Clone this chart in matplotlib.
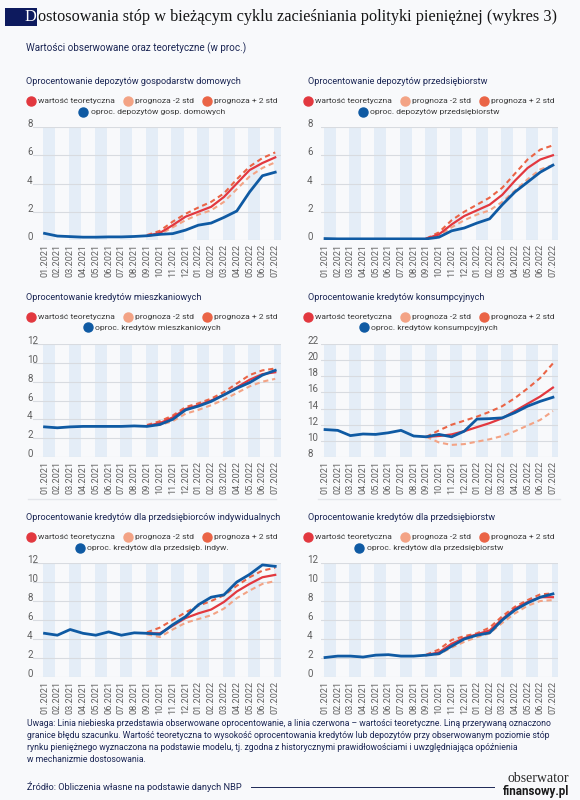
import numpy as np
import matplotlib
matplotlib.use("Agg")
import matplotlib.pyplot as plt
from matplotlib.lines import Line2D
from matplotlib.patches import Rectangle
import matplotlib.transforms as mtransforms

# ---------------- data ----------------
months = ["01.2021", "02.2021", "03.2021", "04.2021", "05.2021", "06.2021",
          "07.2021", "08.2021", "09.2021", "10.2021", "11.2021", "12.2021",
          "01.2022", "02.2022", "03.2022", "04.2022", "05.2022", "06.2022",
          "07.2022"]
forecast_months = months[8:]

legend_labels = ["wartość teoretyczna", "prognoza -2 std", "prognoza + 2 std"]

# 1. household deposits
hh_dep_obs = [0.47, 0.28, 0.24, 0.20, 0.20, 0.22, 0.22, 0.25, 0.30, 0.40,
              0.45, 0.70, 1.05, 1.20, 1.60, 2.05, 3.40, 4.55, 4.80]
hh_dep_theo = [0.30, 0.50, 1.05, 1.65, 2.00, 2.35, 3.05, 4.00, 4.95, 5.45, 5.85]
hh_dep_lo = [0.28, 0.40, 0.90, 1.40, 1.80, 2.10, 2.70, 3.60, 4.50, 5.10, 5.50]
hh_dep_hi = [0.35, 0.65, 1.30, 1.85, 2.30, 2.70, 3.30, 4.30, 5.20, 5.80, 6.20]

# 2. enterprise deposits
ent_dep_obs = [0.10, 0.08, 0.08, 0.08, 0.08, 0.08, 0.08, 0.08, 0.08, 0.20,
               0.65, 0.85, 1.20, 1.50, 2.50, 3.40, 4.10, 4.80, 5.30]
ent_dep_theo = [0.10, 0.40, 1.10, 1.70, 2.10, 2.50, 3.20, 4.20, 5.10, 5.70, 6.00]
ent_dep_lo = [0.10, 0.30, 0.90, 1.40, 1.80, 2.10, 2.70, 3.50, 4.30, 5.00, 5.30]
ent_dep_hi = [0.10, 0.55, 1.40, 2.00, 2.50, 3.00, 3.70, 4.70, 5.70, 6.40, 6.70]

# 3. mortgage loans
mort_obs = [3.20, 3.10, 3.20, 3.25, 3.25, 3.25, 3.25, 3.30, 3.25, 3.45,
            4.00, 5.00, 5.40, 5.90, 6.60, 7.30, 7.90, 8.70, 9.20]
mort_theo = [3.30, 3.60, 4.20, 5.10, 5.50, 6.00, 6.60, 7.40, 8.20, 8.80, 9.00]
mort_lo = [3.30, 3.40, 3.80, 4.60, 5.00, 5.50, 6.10, 6.80, 7.50, 8.00, 8.30]
mort_hi = [3.40, 3.80, 4.40, 5.30, 5.70, 6.20, 6.90, 7.80, 8.70, 9.20, 9.40]

# 4. consumer loans
cons_obs = [11.40, 11.30, 10.65, 10.85, 10.80, 11.00, 11.30, 10.60, 10.50, 10.80,
            10.50, 11.20, 12.70, 12.75, 12.85, 13.50, 14.30, 14.90, 15.40]
cons_theo = [10.50, 10.60, 10.80, 11.20, 11.70, 12.20, 12.80, 13.70, 14.60, 15.50, 16.60]
cons_lo = [10.50, 9.80, 9.50, 9.60, 9.90, 10.20, 10.60, 11.20, 11.90, 12.60, 13.70]
cons_hi = [10.50, 11.30, 12.00, 12.50, 13.00, 13.60, 14.30, 15.30, 16.50, 17.80, 19.60]

# 5. sole proprietors loans
sole_obs = [4.60, 4.40, 5.00, 4.60, 4.40, 4.75, 4.40, 4.65, 4.60, 4.50,
            5.50, 6.35, 7.60, 8.40, 8.65, 10.00, 10.80, 11.80, 11.65]
sole_theo = [4.60, 4.60, 5.40, 6.20, 6.70, 7.10, 7.90, 9.00, 9.80, 10.50, 10.75]
sole_lo = [4.50, 4.20, 5.00, 5.70, 6.10, 6.50, 7.20, 8.30, 9.10, 9.80, 10.10]
sole_hi = [4.70, 5.20, 6.00, 6.80, 7.50, 8.00, 8.60, 9.60, 10.50, 11.20, 11.50]

# 6. enterprise loans
ent_loan_obs = [2.05, 2.20, 2.20, 2.10, 2.30, 2.35, 2.20, 2.20, 2.30, 2.45,
                3.25, 4.00, 4.40, 4.65, 6.00, 7.05, 7.80, 8.40, 8.75]
ent_loan_theo = [2.30, 2.60, 3.50, 4.10, 4.50, 4.90, 6.10, 7.20, 7.90, 8.40, 8.40]
ent_loan_lo = [2.30, 2.40, 3.10, 3.70, 4.20, 4.60, 5.70, 6.70, 7.50, 8.00, 8.10]
ent_loan_hi = [2.35, 2.90, 3.90, 4.30, 4.60, 5.20, 6.40, 7.40, 8.10, 8.70, 8.80]

titles = ["Oprocentowanie depozytów gospodarstw domowych",
          "Oprocentowanie depozytów przedsiębiorstw",
          "Oprocentowanie kredytów mieszkaniowych",
          "Oprocentowanie kredytów konsumpcyjnych",
          "Oprocentowanie kredytów dla przedsiębiorców indywidualnych",
          "Oprocentowanie kredytów dla przedsiębiorstw"]
obs_labels = ["oproc. depozytów gosp. domowych",
              "oproc. depozytów przedsiębiorstw",
              "oproc. kredytów mieszkaniowych",
              "oproc. kredytów konsumpcyjnych",
              "oproc. kredytów dla przedsięb. indyw.",
              "oproc. kredytów dla przedsiębiorstw"]
y_ticks = [[0, 2, 4, 6, 8], [0, 2, 4, 6, 8],
           [0, 2, 4, 6, 8, 10, 12], [8, 10, 12, 14, 16, 18, 20, 22],
           [0, 2, 4, 6, 8, 10, 12], [0, 2, 4, 6, 8, 10, 12]]

series = [(hh_dep_obs, hh_dep_theo, hh_dep_lo, hh_dep_hi),
          (ent_dep_obs, ent_dep_theo, ent_dep_lo, ent_dep_hi),
          (mort_obs, mort_theo, mort_lo, mort_hi),
          (cons_obs, cons_theo, cons_lo, cons_hi),
          (sole_obs, sole_theo, sole_lo, sole_hi),
          (ent_loan_obs, ent_loan_theo, ent_loan_lo, ent_loan_hi)]

subtitle = "Wartości obserwowane oraz teoretyczne (w proc.)"
title_first = "D"
title_rest = "ostosowania stóp w bieżącym cyklu zacieśniania polityki pieniężnej (wykres 3)"
note_lines = [
    "Uwaga: Linia niebieska przedstawia obserwowane oprocentowanie, a linia czerwona – wartości teoretyczne. Liną przerywaną oznaczono",
    "granice błędu szacunku. Wartość teoretyczna to wysokość oprocentowania kredytów lub depozytów przy obserwowanym poziomie stóp",
    "rynku pieniężnego wyznaczona na podstawie modelu, tj. zgodna z historycznymi prawidłowościami i uwzględniająca opóźnienia",
    "w mechanizmie dostosowania.",
]
source = "Źródło: Obliczenia własne na podstawie danych NBP"

# ---------------- style ----------------
BG = "#f8f9fb"
NAVY = "#1c2755"
BLUE = "#0f5aa3"
RED = "#e2383f"
HI = "#ea6446"
LO = "#f3a385"
BAND = "#e4edf7"
GRID = "#d8dbe0"
TICK = "#5f5f5f"
SANS = ["Roboto", "DejaVu Sans"]
SERIF = ["Liberation Serif", "DejaVu Serif"]

W, H = 580, 800
fig = plt.figure(figsize=(W / 100, H / 100), dpi=100)
fig.patch.set_facecolor(BG)


def fx(px):
    return px / W


def fy(py):
    return 1 - py / H


# title: navy block with white initial, then the rest of the title
fig.canvas.draw()
renderer = fig.canvas.get_renderer()
box_right = 37
fig.add_artist(Rectangle((fx(5), fy(26)), fx(box_right) - fx(5), 18 / H,
                         transform=fig.transFigure, facecolor="#0d1a5e",
                         edgecolor="none", zorder=1))
tD = fig.text(fx(box_right - 1), fy(17), title_first, color="white",
              fontsize=12.5, family=SERIF, va="center", ha="right", zorder=5)
tR = fig.text(fx(box_right + 0.5), fy(17), title_rest, color="#151515",
              fontsize=12.5, family=SERIF, va="center", ha="left", zorder=5)
bbR = tR.get_window_extent(renderer)
scale = (557 - bbR.x0) / (bbR.x1 - bbR.x0)
tD.set_fontsize(12.5 * scale)
tR.set_fontsize(12.5 * scale)

fig.text(fx(26), fy(48), subtitle, color=NAVY, fontsize=7.1, family=SANS,
         va="center", ha="left")

rows = [dict(title=81, leg1=101, leg2=112, top=127, bottom=240),
        dict(title=297, leg1=317, leg2=328, top=344, bottom=457),
        dict(title=517, leg1=537, leg2=548, top=563, bottom=677)]
cols = [dict(left=33, right=281, xlim=(-0.9, 18.45), title_x=26, leg_cx=152, lab_pad=6),
        dict(left=321, right=558, xlim=(-0.32, 18.4), title_x=308, leg_cx=429, lab_pad=14)]

x_all = np.arange(len(months))
x_fc = np.arange(months.index(forecast_months[0]), len(months))
offset = mtransforms.ScaledTranslation(0, 0.04, fig.dpi_scale_trans)

for i, (obs, theo, lo, hi) in enumerate(series):
    r = rows[i // 2]
    c = cols[i % 2]
    ax = fig.add_axes([fx(c["left"]), fy(r["bottom"]),
                       (c["right"] - c["left"]) / W, (r["bottom"] - r["top"]) / H])
    ax.set_facecolor("none")
    yt = y_ticks[i]
    ax.set_xlim(*c["xlim"])
    ax.set_ylim(yt[0], yt[-1])
    for k in range(0, len(months), 2):
        ax.axvspan(k - 0.1, k + 0.85, color=BAND, lw=0, zorder=0)
    for v in yt:
        ax.axhline(v, color=GRID, lw=0.8, zorder=1)
    ax.plot(x_fc, lo, color=LO, lw=1.5, ls=(0, (2.5, 1.8)), zorder=3)
    ax.plot(x_fc, hi, color=HI, lw=1.5, ls=(0, (2.5, 1.8)), zorder=3)
    ax.plot(x_fc, theo, color=RED, lw=1.6, zorder=4)
    ax.plot(x_all, obs, color=BLUE, lw=2.0, zorder=5)
    for s in ax.spines.values():
        s.set_visible(False)
    ax.set_xticks(x_all)
    ax.set_xticklabels(months, rotation=90, fontsize=6.6, color=TICK, family=SANS)
    ax.tick_params(axis="x", length=0, pad=3)
    ax.set_yticks(yt)
    ax.set_yticklabels([str(v) for v in yt], fontsize=7.0, color=TICK, family=SANS)
    ax.tick_params(axis="y", length=0, pad=c["lab_pad"] * 0.72)
    for t in ax.yaxis.get_major_ticks():
        t.label1.set_horizontalalignment("left")
        t.label1.set_transform(t.label1.get_transform() + offset)

    fig.text(fx(c["title_x"]), fy(r["title"]), titles[i], color=NAVY,
             fontsize=6.6, family=SANS, va="center", ha="left")
    handles = [Line2D([], [], ls="", marker="o", markersize=6.5, color=col)
               for col in (RED, LO, HI)]
    fig.legend(handles, legend_labels, loc="center", ncol=3, frameon=False,
               bbox_to_anchor=(fx(c["leg_cx"]), fy(r["leg1"])),
               prop=dict(family=SANS, size=6.1), labelcolor="#3a3a3a",
               handletextpad=0.35, columnspacing=1.0, handlelength=1.0,
               borderpad=0, borderaxespad=0)
    fig.legend([Line2D([], [], ls="", marker="o", markersize=6.5, color=BLUE)],
               [obs_labels[i]], loc="center", ncol=1, frameon=False,
               bbox_to_anchor=(fx(c["leg_cx"]), fy(r["leg2"])),
               prop=dict(family=SANS, size=6.1), labelcolor="#3a3a3a",
               handletextpad=0.35, handlelength=1.0, borderpad=0, borderaxespad=0)

# separator lines under the middle row
for x0, x1 in ((28, 276), (318, 560)):
    fig.add_artist(Line2D([fx(x0), fx(x1)], [fy(499), fy(499)], color="#e3e5ea",
                          lw=1.0, transform=fig.transFigure))

# notes
for j, line in enumerate(note_lines):
    fig.text(fx(27), fy(724 + 12 * j), line, color=NAVY, fontsize=6.25,
             family=SANS, va="center", ha="left")

fig.text(fx(27), fy(787), source, color=NAVY, fontsize=6.7, family=SANS,
         va="center", ha="left")
fig.add_artist(Line2D([fx(251), fx(494)], [fy(787), fy(787)], color=NAVY,
                      lw=0.7, transform=fig.transFigure))
fig.text(fx(569), fy(778), "obserwator", color="#2a2a2a", fontsize=10,
         family=SERIF, va="center", ha="right")
fig.text(fx(569), fy(791), "finansowy.pl", color="#1a1a1a", fontsize=8.4,
         family=SANS, weight="bold", va="center", ha="right")

fig.savefig("out.png", dpi=100, facecolor=BG)
